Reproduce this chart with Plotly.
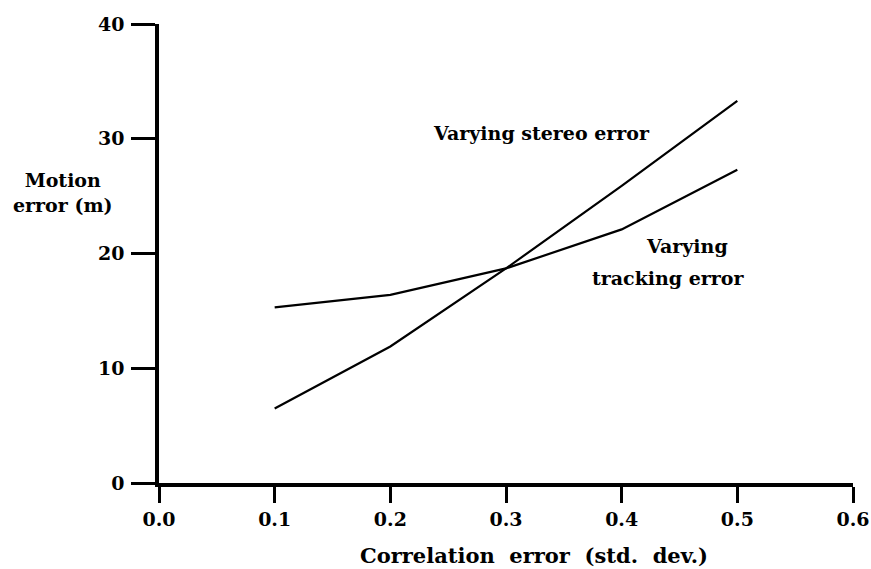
import plotly.graph_objects as go

x_vals = [0.1, 0.2, 0.3, 0.4, 0.5]
stereo_err = [6.5, 11.9, 18.7, 25.9, 33.3]
tracking_err = [15.3, 16.4, 18.7, 22.1, 27.3]
x_ticks = [0.0, 0.1, 0.2, 0.3, 0.4, 0.5, 0.6]
y_ticks = [0, 10, 20, 30, 40]

FONT = "DejaVu Serif"

fig = go.Figure()
fig.add_trace(go.Scatter(x=x_vals, y=stereo_err, mode="lines",
                         line=dict(color="black", width=2.2), showlegend=False))
fig.add_trace(go.Scatter(x=x_vals, y=tracking_err, mode="lines",
                         line=dict(color="black", width=2.2), showlegend=False))

fig.update_layout(
    width=871, height=569,
    margin=dict(l=159, r=18, t=24, b=86),
    plot_bgcolor="white", paper_bgcolor="white",
    font=dict(family=FONT, color="black", size=16),
    xaxis=dict(range=[0, 0.6], tickvals=x_ticks, ticktext=[f"{v:.1f}" for v in x_ticks],
               automargin=False,
               showgrid=False, zeroline=False, showline=True, linecolor="black",
               linewidth=3.5, ticks="outside", ticklen=16, tickwidth=3, tickcolor="black",
               ticklabelstandoff=0,
               tickfont=dict(family=FONT, size=19, weight="bold")),
    yaxis=dict(range=[0, 40], tickvals=y_ticks, automargin=False,
               showgrid=False, zeroline=False, showline=True, linecolor="black",
               linewidth=3.5, ticks="outside", ticklen=24, tickwidth=3, tickcolor="black",
               ticklabelstandoff=3,
               tickfont=dict(family=FONT, size=19, weight="bold")),
)

fig.add_annotation(text="<b>Correlation  error  (std.  dev.)</b>", xref="paper", yref="paper",
                   x=(534 - 159) / 694, y=-(555 - 483) / 459, xanchor="center", yanchor="middle",
                   showarrow=False, font=dict(family=FONT, size=21))
fig.add_annotation(text="<b>Motion<br>error (m)</b>", xref="paper", yref="paper",
                   x=-0.138, y=0.632, xanchor="center", yanchor="middle", showarrow=False,
                   font=dict(family=FONT, size=19), align="center")
fig.add_annotation(text="<b>Varying stereo error</b>", x=0.331, y=30.5,
                   xanchor="center", yanchor="middle", showarrow=False,
                   font=dict(family=FONT, size=19))
fig.add_annotation(text="<b>Varying</b>", x=0.4565, y=20.65,
                   xanchor="center", yanchor="middle", showarrow=False,
                   font=dict(family=FONT, size=19))
fig.add_annotation(text="<b>tracking error</b>", x=0.4409, y=17.86,
                   xanchor="center", yanchor="middle", showarrow=False,
                   font=dict(family=FONT, size=19))

fig.write_html("out.html")
